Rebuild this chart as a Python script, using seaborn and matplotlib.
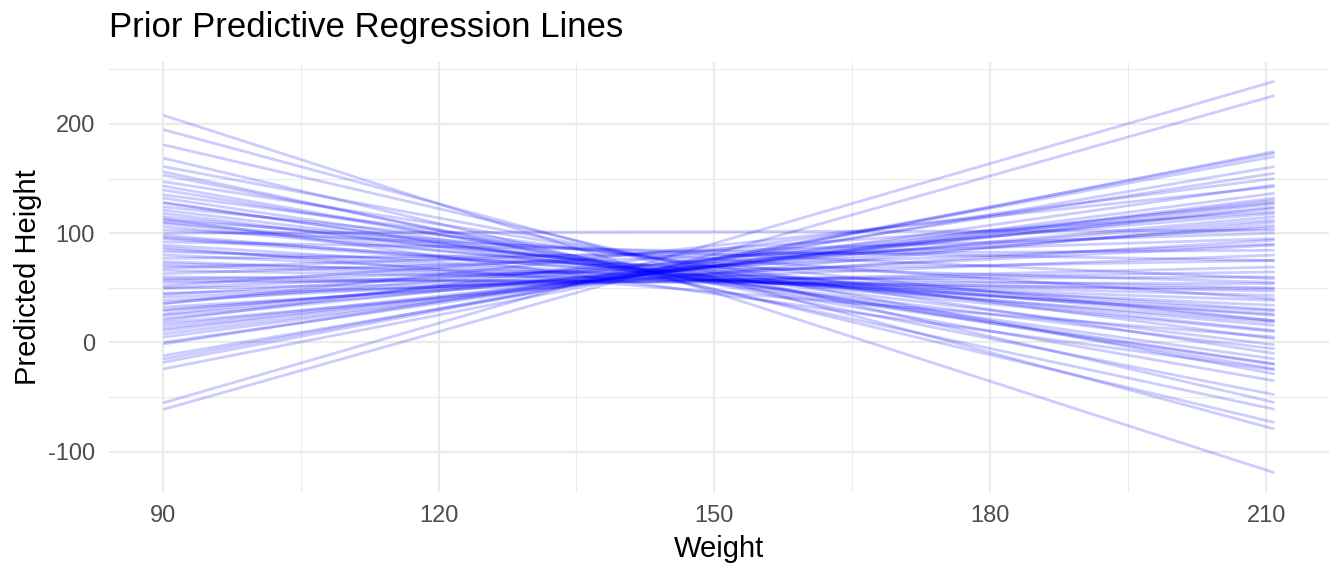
import numpy as np
import pandas as pd
import matplotlib
matplotlib.use('Agg')
import matplotlib.pyplot as plt
from matplotlib.ticker import MultipleLocator
import seaborn as sns

# --- Data: predicted height at the two weight ends ---
weight_lo = 90.2
weight_hi = 210.8

height_at_lo = [207.6, 194.5, 180.7, 168.5, 160.8, 156, 153, 147, 143, 139.4,
                135, 132, 127.5, 124, 118, 115, 112, 109, 106, 103,
                100, 98, 95, 92, 89, 85, 80, 77, 74, 70,
                66, 63, 60, 57, 55, 52, 49.5, 45, 41.6, 38.5,
                35.5, 32.4, 30, 29, 24.8, 22, 20, 15.6, 13, 11,
                8, 5, 0.3, -1.2, -12, -15, -18, -24, -55, -61,
                110, 96, 87, 72, 68, 58, 50, 44, 36, 26,
                18, 121, 128, 113, 83]

height_at_hi = [-119, -79, -54.7, -73, -28.7, -61, -47.7, -10, -35, -24,
                3.4, -19.5, -15, 20, -5.8, 11, 40, 10, 15.6, 58.4,
                102.7, 18.6, 24.8, 75, 26, 29, 34, 84.4, 38.5, 43,
                47, 95, 49, 53.8, 60, 119.5, 64.5, 69, 80, 89,
                142.5, 93.6, 107, 112, 115, 122.6, 150, 124, 127, 130,
                132, 136.4, 144, 154.7, 160.8, 170, 173, 174.6, 238.8, 225.7,
                20, 30, 5, 50, 100, 75, 90, 105, 118, 128,
                110, -2, -20, -25, 55]

x_ticks = [90, 120, 150, 180, 210]
y_ticks = [-100, 0, 100, 200]

# long format table for seaborn
rows = []
for i, (lo, hi) in enumerate(zip(height_at_lo, height_at_hi)):
    rows.append({'line': i, 'weight': weight_lo, 'height': lo})
    rows.append({'line': i, 'weight': weight_hi, 'height': hi})
df = pd.DataFrame(rows)

sns.set_theme(style='white')
plt.rcParams['font.family'] = ['Liberation Sans', 'DejaVu Sans']
plt.rcParams['axes.unicode_minus'] = False

fig = plt.figure(figsize=(13.44, 5.76), dpi=100)
ax = fig.add_axes([109 / 1344, 1 - 492 / 576, (1329 - 109) / 1344, (492 - 62) / 576])

sns.lineplot(data=df, x='weight', y='height', units='line', estimator=None,
             color='#0000FF', alpha=0.2, linewidth=2.0, ax=ax, legend=False)

ax.margins(x=0.05, y=0.05)
ax.set_xticks(x_ticks)
ax.set_yticks(y_ticks)
ax.xaxis.set_minor_locator(MultipleLocator(15))
ax.yaxis.set_minor_locator(MultipleLocator(50))

ax.grid(which='major', color='#EBEBEB', linewidth=1.6)
ax.grid(which='minor', color='#EBEBEB', linewidth=0.8)
ax.set_axisbelow(True)
for s in ax.spines.values():
    s.set_visible(False)

ax.tick_params(which='both', length=0)
ax.tick_params(axis='y', pad=10, labelsize=17, labelcolor='#4D4D4D')
ax.tick_params(axis='x', pad=9, labelsize=17, labelcolor='#4D4D4D')

ax.set_xlabel('Weight', fontsize=21, color='black', labelpad=6)
ax.set_ylabel('Predicted Height', fontsize=21, color='black', labelpad=4)
ax.set_title('Prior Predictive Regression Lines', fontsize=25, loc='left',
             pad=18, color='black')

plt.savefig('out.png', dpi=100, facecolor='white')
plt.close()
